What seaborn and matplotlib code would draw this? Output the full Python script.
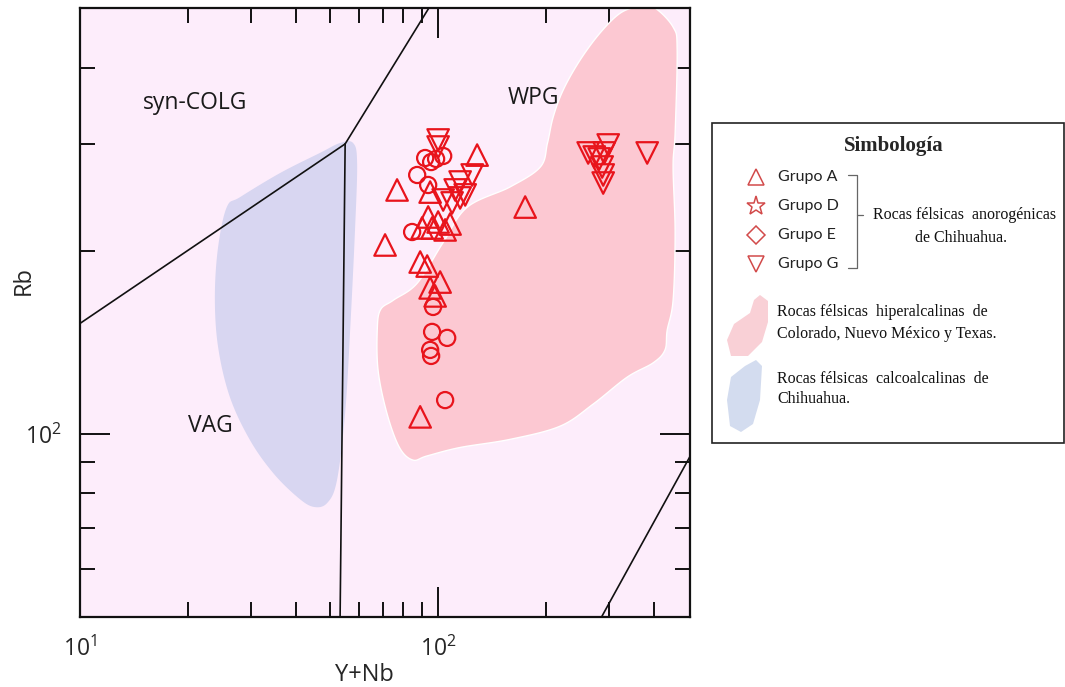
import numpy as np
import matplotlib
matplotlib.use("Agg")
import matplotlib.pyplot as plt
import seaborn as sns
from matplotlib.patches import Rectangle, Polygon
from matplotlib.ticker import FixedLocator, FixedFormatter, NullFormatter

# ---------------- data ----------------
grupo_a_x = [128.5, 76.8, 95.0, 175.0, 93.8, 100.0, 108.0, 96.2, 104.6, 90.2,
             71.1, 89.1, 93.2, 101.3, 95.0, 98.1, 89.1]
grupo_a_y = [287.6, 252.0, 250.0, 236.2, 227.5, 223.2, 221.5, 218.2, 216.6, 218.2,
             204.6, 191.8, 188.9, 177.8, 173.9, 168.7, 106.7]

circ_x = [92.0, 95.6, 98.7, 103.3, 87.4, 93.8, 84.6, 96.8, 96.2, 106.0, 95.0, 95.6, 104.6]
circ_y = [284.4, 280.1, 283.4, 286.6, 266.7, 256.8, 214.9, 161.8, 147.2, 143.9, 137.5, 134.4, 113.7]

grupo_g_x = [100.0, 100.0, 124.5, 115.2, 111.6, 103.3, 109.4, 115.2, 119.0,
             298.5, 262.4, 272.8, 281.7, 290.9, 287.1, 289.0, 289.0, 383.5]
grupo_g_y = [304.5, 296.5, 266.7, 259.7, 252.0, 242.6, 239.9, 244.5, 247.3,
             298.8, 289.9, 285.5, 283.4, 289.9, 274.9, 266.7, 258.7, 289.9]

# field outlines (Y+Nb, Rb)
pink_x = [322, 360, 399, 453, 465, 459, 453, 459, 453, 436, 430, 399, 337, 271, 219, 159,
          115, 93, 85, 78, 72, 68, 67.6, 69, 75, 87.4, 103, 120.5, 159, 193, 202, 209.5,
          223.5, 249, 283.5]
pink_y = [492, 504, 504, 467, 428, 313, 275, 214, 166, 148, 137.5, 131, 124, 112, 103, 98,
          95, 92, 90.6, 95, 108, 127, 148, 160, 166, 177, 206, 236, 255, 275, 301, 332,
          368, 412, 457]
blue_x = [57.9, 59.4, 58.6, 56.8, 55.0, 52.2, 49.0, 44.8, 40.4, 34.6, 29.8, 26.2, 24.3,
          23.8, 24.3, 25.7, 28.0, 36.2, 46.8, 53.2]
blue_y = [301, 279, 216.6, 148.3, 108.3, 84.0, 77.0, 75.9, 78.8, 86.3, 97.8, 115.1, 139.0,
          168.0, 203.0, 236.2, 245.3, 268.7, 290.0, 301]

# Pearce et al. (1984) boundaries
line_vag_col_x = [2, 55];   line_vag_col_y = [80, 300]
line_col_wpg_x = [55, 400]; line_col_wpg_y = [300, 2000]
line_vag_wpg_x = [55, 51.5]; line_vag_wpg_y = [300, 8]
line_org_wpg_x = [51.5, 2000]; line_org_wpg_y = [8, 400]

x_ticks = [10, 100]; x_tick_labels = [r"$\mathregular{10^{1}}$", r"$\mathregular{10^{2}}$"]
x_minor = [20, 30, 40, 50, 60, 70, 80, 90, 200, 300, 400]
y_ticks = [100]; y_tick_labels = [r"$\mathregular{10^{2}}$"]
y_minor = [60, 70, 80, 90, 200, 300, 400]

RED = "#e8141c"
BG = "#fdedfb"
PINK = "#fcc8d2"
BLUE = "#d8d6f1"

sns.set_style("ticks")
plt.rcParams["font.family"] = ["Open Sans", "DejaVu Sans"]
plt.rcParams["mathtext.fontset"] = "custom"
plt.rcParams["mathtext.rm"] = "Open Sans"


def smooth_closed(xs, ys, n=24):
    P = np.column_stack([np.log10(xs), np.log10(ys)])
    N = len(P)
    out = []
    t = np.linspace(0, 1, n, endpoint=False)[:, None]
    for i in range(N):
        p0, p1, p2, p3 = P[(i - 1) % N], P[i], P[(i + 1) % N], P[(i + 2) % N]
        pts = 0.5 * ((2 * p1) + (-p0 + p2) * t + (2 * p0 - 5 * p1 + 4 * p2 - p3) * t ** 2
                     + (-p0 + 3 * p1 - 3 * p2 + p3) * t ** 3)
        out.append(pts)
    out = np.vstack(out)
    return 10 ** out[:, 0], 10 ** out[:, 1]


fig = plt.figure(figsize=(10.65, 6.87), dpi=100)
fig.patch.set_facecolor("white")
ax = fig.add_axes([80 / 1065, 70 / 687, 610 / 1065, 609 / 687])
ax.set_facecolor(BG)
ax.set_xscale("log")
ax.set_yscale("log")
ax.set_xlim(10, 505)
ax.set_ylim(50, 502)

bx, by = smooth_closed(blue_x, blue_y)
ax.fill(bx, by, color=BLUE, lw=0, zorder=1)
px, py = smooth_closed(pink_x, pink_y)
ax.fill(px, py, facecolor=PINK, edgecolor="white", lw=1.0, zorder=1.5)

for lx, ly in [(line_vag_col_x, line_vag_col_y), (line_col_wpg_x, line_col_wpg_y),
               (line_vag_wpg_x, line_vag_wpg_y), (line_org_wpg_x, line_org_wpg_y)]:
    ax.plot(lx, ly, color="#111111", lw=1.2, zorder=2)

common = dict(facecolor="none", edgecolor=RED, linewidth=1.6, ax=ax, zorder=5, legend=False)
sns.scatterplot(x=circ_x, y=circ_y, marker="o", s=135, **common)
sns.scatterplot(x=grupo_a_x, y=grupo_a_y, marker="^", s=240, **common)
sns.scatterplot(x=grupo_g_x, y=grupo_g_y, marker="v", s=240, **common)

ax.text(20.95, 350.3, "syn-COLG", fontsize=16.5, ha="center", va="center", color="#1a1a1a")
ax.text(184.2, 356.9, "WPG", fontsize=16.5, ha="center", va="center", color="#1a1a1a")
ax.text(23.07, 103.1, "VAG", fontsize=16.5, ha="center", va="center", color="#1a1a1a")

ax.xaxis.set_major_locator(FixedLocator(x_ticks))
ax.xaxis.set_major_formatter(FixedFormatter(x_tick_labels))
ax.xaxis.set_minor_locator(FixedLocator(x_minor))
ax.xaxis.set_minor_formatter(NullFormatter())
ax.yaxis.set_major_locator(FixedLocator(y_ticks))
ax.yaxis.set_major_formatter(FixedFormatter(y_tick_labels))
ax.yaxis.set_minor_locator(FixedLocator(y_minor))
ax.yaxis.set_minor_formatter(NullFormatter())
ax.tick_params(which="both", direction="in", top=True, right=True, color="#111111",
               width=1.4, labelsize=16.5)
ax.tick_params(which="major", length=21.5)
ax.tick_params(which="minor", length=10.8)
ax.tick_params(axis="x", which="major", pad=14)
ax.tick_params(axis="y", which="major", pad=13)
for sp in ax.spines.values():
    sp.set_linewidth(1.6)
    sp.set_color("#111111")

ax.set_ylabel("Rb", fontsize=17)
ax.yaxis.set_label_coords(-0.072, 0.552)
ax.set_xlabel("Y+Nb", fontsize=17)
ax.xaxis.set_label_coords(0.467, -0.076)

# ---------------- legend box (pixel layout) ----------------
lax = fig.add_axes([0, 0, 1, 1], zorder=10)
lax.set_xlim(0, 1065)
lax.set_ylim(687, 0)
lax.axis("off")
lax.patch.set_alpha(0)

lax.add_patch(Rectangle((712, 123), 352, 320, fc="white", ec="#222222", lw=1.2))
serif = ["Liberation Serif", "DejaVu Serif"]
lax.text(894, 146, "Simbología", ha="center", va="center", fontsize=15,
         fontweight="bold", family=serif)

LRED = "#d24a4a"
legend_names = ["Grupo A", "Grupo D", "Grupo E", "Grupo G"]
legend_marks = ["^", "*", "D", "v"]
legend_sizes = [12, 14, 9, 12]
legend_ys = [177, 206, 235, 264]
for name, m, ms, yy in zip(legend_names, legend_marks, legend_sizes, legend_ys):
    lax.plot([756], [yy], marker=m, ms=ms, mfc="none", mec=LRED, mew=1.1, ls="none")
    lax.text(778, yy, name, ha="left", va="center", fontsize=11.5,
             family=["Lato", "DejaVu Sans"], color="#222222")

lax.plot([848, 857, 857, 848], [175, 175, 268, 268], color="#666666", lw=0.9)
lax.plot([857, 863], [215, 215], color="#666666", lw=0.9)
lax.text(873, 215, "Rocas félsicas  anorogénicas", ha="left", va="center",
         fontsize=11.5, family=serif, color="#111111")
lax.text(961, 238, "de Chihuahua.", ha="center", va="center",
         fontsize=11.5, family=serif, color="#111111")

lax.add_patch(Polygon([(760, 295), (768, 301), (768, 322), (762, 342), (748, 356),
                       (731, 356), (727, 340), (734, 324), (750, 313), (754, 300)],
                      closed=True, fc="#f9d0d6", ec="none"))
lax.add_patch(Polygon([(756, 360), (762, 366), (760, 400), (753, 424), (741, 432),
                       (730, 426), (727, 400), (731, 377), (745, 366)],
                      closed=True, fc="#d3dcef", ec="none"))
lax.text(777, 312, "Rocas félsicas  hiperalcalinas  de", ha="left", va="center",
         fontsize=11.5, family=serif, color="#111111")
lax.text(777, 334, "Colorado, Nuevo México y Texas.", ha="left", va="center",
         fontsize=11.5, family=serif, color="#111111")
lax.text(777, 379, "Rocas félsicas  calcoalcalinas  de", ha="left", va="center",
         fontsize=11.5, family=serif, color="#111111")
lax.text(777, 399, "Chihuahua.", ha="left", va="center",
         fontsize=11.5, family=serif, color="#111111")

fig.savefig("out.png", dpi=100)
